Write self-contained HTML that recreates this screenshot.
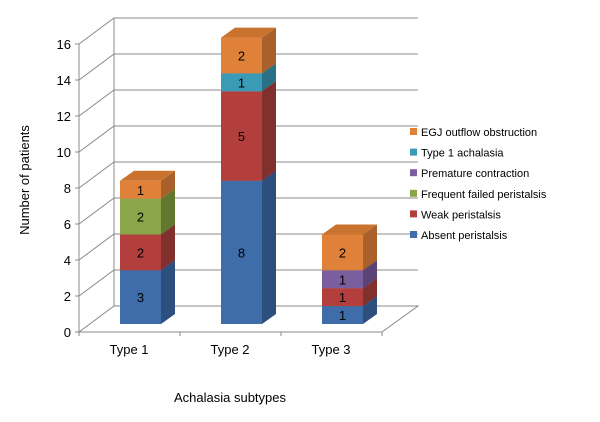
<!DOCTYPE html>
<html><head><meta charset="utf-8"><style>
body{margin:0;background:#fff;}
svg text{font-family:"Liberation Sans",Arial,sans-serif;}
</style></head><body>
<svg id="chart" width="600" height="417">
<g id="grid"></g><g id="bars"></g><g id="axes"></g><g id="legend"></g>
<text x="230" y="402" font-size="13" text-anchor="middle" fill="#000">Achalasia subtypes</text>
<text transform="translate(29,180) rotate(-90)" font-size="13" text-anchor="middle" fill="#000">Number of patients</text>
</svg>
<script>
const categories=["Type 1","Type 2","Type 3"];
const seriesNames=["Absent peristalsis","Weak peristalsis","Frequent failed peristalsis","Premature contraction","Type 1 achalasia","EGJ outflow obstruction"];
const absent=[3,8,1];
const weak=[2,5,1];
const frequentFailed=[2,0,0];
const premature=[0,0,1];
const type1Achalasia=[0,1,0];
const egj=[1,2,2];
const yTicks=[0,2,4,6,8,10,12,14,16];
const series=[absent,weak,frequentFailed,premature,type1Achalasia,egj];
const colors=[["#3E6DAA","#2C4F7D","#34609A"],["#B23F3C","#80302D","#9C3734"],["#8AA64A","#62782F","#7A9540"],["#7A5E9E","#594475","#6B5290"],["#3B9AB6","#2A7187","#338AA3"],["#E0813A","#A9602A","#C9732E"]];
const NS="http://www.w3.org/2000/svg";
function mk(tag,attrs,parent){const e=document.createElementNS(NS,tag);for(const k in attrs)e.setAttribute(k,attrs[k]);parent.appendChild(e);return e;}
const x0=79,y0=332,unit=18,bdx=35,bdy=-26,xEnd=418;
const yF=v=>y0-v*unit;
const catX=i=>x0+41+i*101;
const bw=41,ddx=14,ddy=-10,barBase=324,barUnit=17.9;
const grid=document.getElementById('grid');
// floor
let fl=mk('polygon',{points:`${x0},${y0} ${382},${y0} ${xEnd},${y0+bdy} ${x0+bdx},${y0+bdy}`,fill:"none",stroke:"#888","stroke-width":1},grid);

yTicks.forEach(v=>{
  if(v===0)return;
  const y=yF(v);
  const p=mk('polyline',{points:`${x0},${y} ${x0+bdx},${y+bdy} ${xEnd},${y+bdy}`,fill:"none",stroke:"#888","stroke-width":1},grid);
  
  
});
const wl=mk('line',{x1:x0+bdx,y1:y0+bdy,x2:x0+bdx,y2:yF(16)+bdy,stroke:"#888"},grid);

const bars=document.getElementById('bars');
categories.forEach((c,i)=>{
  let cum=0;const x=catX(i);
  series.forEach((s,si)=>{
    const v=s[i];if(!v)return;
    const yb=barBase-cum*barUnit,yt=barBase-(cum+v)*barUnit;cum+=v;
    const g=mk('g',{},bars);
    
    
    mk('rect',{x:x,y:yt,width:bw,height:yb-yt,fill:colors[si][0]},g);
    mk('polygon',{points:`${x+bw},${yb} ${x+bw+ddx},${yb+ddy} ${x+bw+ddx},${yt+ddy} ${x+bw},${yt}`,fill:colors[si][1]},g);
    mk('polygon',{points:`${x},${yt} ${x+ddx},${yt+ddy} ${x+bw+ddx},${yt+ddy} ${x+bw},${yt}`,fill:colors[si][2]},g);
    const t=mk('text',{x:x+bw/2,y:(yt+yb)/2+5,"font-size":13,"text-anchor":"middle",fill:"#000"},g);
    t.textContent=v;
  });
});
const axes=document.getElementById('axes');
mk('line',{x1:x0,y1:y0,x2:x0,y2:yF(16),stroke:"#888"},axes);
mk('line',{x1:x0,y1:y0,x2:382,y2:y0,stroke:"#888"},axes);
yTicks.forEach(v=>{
  const y=yF(v);
  mk('line',{x1:x0-4,y1:y,x2:x0,y2:y,stroke:"#888"},axes);
  const t=mk('text',{x:x0-8,y:y+5,"font-size":13,"text-anchor":"end",fill:"#000"},axes);
  
  
  t.textContent=v;
});
[0,1,2,3].forEach(i=>mk('line',{x1:x0+i*101,y1:y0,x2:x0+i*101,y2:y0+4,stroke:"#888"},axes));
categories.forEach((c,i)=>{
  const t=mk('text',{x:x0+50+i*101,y:354,"font-size":13,"text-anchor":"middle",fill:"#000"},axes);
  
  
  t.textContent=c;
});
const lg=document.getElementById('legend');
for(let k=seriesNames.length-1,r=0;k>=0;k--,r++){
  const y=132+r*20.6;
  const g=mk('g',{},lg);
  
  
  mk('rect',{x:410,y:y-4,width:7,height:7,fill:colors[k][0]},g);
  const t=mk('text',{x:421,y:y+4,"font-size":11,fill:"#000"},g);
  t.textContent=seriesNames[k];
}
</script>
</body></html>
